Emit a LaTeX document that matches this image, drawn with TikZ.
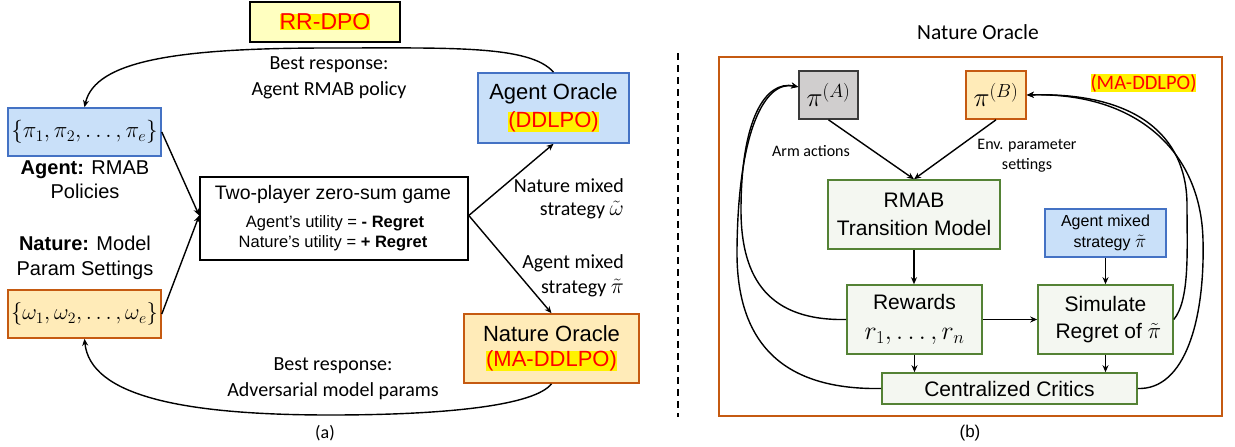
\RequirePackage{fix-cm}
\documentclass[tikz,border=0pt]{standalone}
\usepackage{fontspec}
\newfontfamily\arialf{Liberation Sans}
\newfontfamily\calib{Carlito}
\usetikzlibrary{arrows.meta,calc}
\definecolor{bluefill}{HTML}{C9E0F9}
\definecolor{blueline}{HTML}{4472C4}
\definecolor{orfill}{HTML}{FFEBB8}
\definecolor{orline}{HTML}{C55A11}
\definecolor{grfill}{HTML}{F4F7F1}
\definecolor{grline}{HTML}{548235}
\definecolor{gyfill}{HTML}{D0CECE}
\definecolor{gyline}{HTML}{3A3A3A}
\definecolor{yelfill}{HTML}{FFFFC0}
\newcommand\fs[2]{\fontsize{#1}{#2}\selectfont}
\newcommand\hl[1]{{\setlength{\fboxsep}{0pt}\colorbox{yellow}{\textcolor{red}{#1}}}}
\begin{document}
\begin{tikzpicture}[x=1pt,y=-1pt,
  box/.style={draw, line width=1.6pt, inner sep=0pt, align=center},
  bluebox/.style={box, draw=blueline, fill=bluefill},
  orbox/.style={box, draw=orline, fill=orfill},
  grbox/.style={box, draw=grline, fill=grfill},
  conn/.style={line width=1.4pt, -{Stealth[length=7pt,width=6pt]}},
  lbl/.style={inner sep=0pt, align=center, font=\calib\fs{20}{26}},
  txt/.style={inner sep=0pt, align=center},
]
\useasboundingbox (0,0) rectangle (1235,447);

% ---------------- (a) game between agent and nature ----------------
\node[box, fill=yelfill, minimum width=150, minimum height=40, font=\arialf\fs{23}{27}] (rr) at (325,22) {\hl{RR-DPO}};

\node[bluebox, minimum width=153, minimum height=48, font=\fs{23}{27}] (ag) at (84.5,132) {$\{\pi_1,\pi_2,\ldots,\pi_e\}$};
\node[txt, font=\arialf\fs{20}{24}] (aglab) at (85,180) {\textbf{Agent:} RMAB\\Policies};
\node[txt, font=\arialf\fs{20}{25}] (nslab) at (85,258) {\textbf{Nature:} Model\\Param Settings};
\node[orbox, minimum width=153, minimum height=48, font=\fs{22.5}{27}] (ns) at (84.5,314) {$\{\omega_1,\omega_2,\ldots,\omega_e\}$};

\node[box, minimum width=268, minimum height=83] (game) at (334,218.5) {};
\node[txt, anchor=base, font=\arialf\fs{19.5}{23}] (g1) at (333,199) {Two-player zero-sum game};
\node[txt, anchor=base, font=\arialf\fs{16.5}{20}] (g2) at (335,227) {Agent’s utility = \textbf{- Regret}};
\node[txt, anchor=base, font=\arialf\fs{16.5}{20}] (g3) at (333,247) {Nature’s utility = \textbf{+ Regret}};

\node[bluebox, minimum width=151, minimum height=70, font=\arialf\fs{22}{28}] (aor) at (553.5,108) {Agent Oracle\\\hl{(DDLPO)}};
\node[orbox, minimum width=175, minimum height=69, font=\arialf\fs{22}{25}] (nor) at (551.5,348.5) {Nature Oracle\\\hl{(MA-DDLPO)}};

\node[lbl] (br1) at (329,77.5) {Best response:\\Agent RMAB policy};
\node[lbl] (br2) at (333,378.5) {Best response:\\Adversarial model params};
\node[lbl, align=right, anchor=east, font=\calib\fs{20}{23}] (nmix) at (624,199) {Nature mixed\\strategy {\fs{22}{23}$\tilde{\omega}$}};
\node[lbl, align=right, anchor=east, font=\calib\fs{20}{25}] (amix) at (624,276) {Agent mixed\\strategy {\fs{22}{25}$\tilde{\pi}$}};

\draw[conn] (aor.north) .. controls (530,45) and (450,48) .. (330,48)
  .. controls (180,48) and (95,60) .. (ag.north);
\draw[conn] (nor.south) .. controls (535,405) and (450,415) .. (330,415)
  .. controls (180,415) and (90,395) .. (ns.south);
\draw[conn] (ag.east) -- ($(game.west)+(0,-3)$);
\draw[conn] (ns.east) -- ($(game.west)+(0,-3)$);
\draw[conn] ($(game.east)+(0,-3)$) -- (aor.south);
\draw[conn] ($(game.east)+(0,-3)$) -- (nor.north);

\node[txt, anchor=base, font=\calib\fs{18}{22}] (capa) at (325,438) {(a)};

% separator
\coordinate (sepTop) at (678,53);
\coordinate (sepBot) at (678,417);
\draw[line width=1.8pt, dash pattern=on 7pt off 5pt] (sepTop) -- (sepBot);

% ---------------- (b) nature oracle ----------------
\node[txt, anchor=base, font=\calib\fs{21.5}{26}] (ttl) at (978,39) {Nature Oracle};
\node[draw=orline, line width=2pt, fill=white, minimum width=503, minimum height=359, inner sep=0pt] (outer) at (970.5,236.5) {};
\node[txt, anchor=base, font=\calib\fs{20.5}{24}] (mad) at (1143.5,89) {\hl{(MA-DDLPO)}};

\node[box, draw=gyline, fill=gyfill, minimum width=59, minimum height=48, font=\fs{27}{30}] (pia) at (828.5,95) {$\pi^{(A)}$};
\node[orbox, minimum width=60, minimum height=48, font=\fs{27}{30}] (pib) at (996,95) {$\pi^{(B)}$};

\node[txt, anchor=base, font=\calib\fs{16}{20}] (arm) at (811,156) {Arm actions};
\node[txt, font=\calib\fs{16}{20}] (env) at (1027,155.5) {Env. parameter\\settings};

\node[grbox, minimum width=172, minimum height=69, font=\arialf\fs{21}{28}] (rmab) at (914,214.5) {RMAB\\Transition Model};
\node[bluebox, minimum width=121, minimum height=48, font=\arialf\fs{16}{21}] (ams) at (1105.5,233) {Agent mixed\\\ \ strategy {\fs{19}{21}$\tilde{\pi}$}};
\node[grbox, minimum width=135, minimum height=69, font=\arialf\fs{21}{30}] (rew) at (914.5,319.5) {Rewards\\{\fs{26}{30}$r_1,\ldots,r_n$}};
\node[grbox, minimum width=135, minimum height=69, font=\arialf\fs{21}{27}] (sim) at (1105.5,319.5) {Simulate\\\ Regret of {\fs{23}{27}$\tilde{\pi}$}};
\node[grbox, minimum width=255, minimum height=31, font=\arialf\fs{21}{25}] (crit) at (1009.5,388.5) {Centralized Critics};

\draw[conn] (pia.south) -- (rmab.north);
\draw[conn] (pib.south) -- (rmab.north);
\draw[conn] (rmab.south) -- (rmab.south |- rew.north);
\draw[conn] (ams.south) -- (sim.north);
\draw[conn] (rew.east) -- (sim.west);
\draw[conn] (rew.south) -- (rew.south |- crit.north);
\draw[conn] (sim.south) -- (sim.south |- crit.north);

% feedback to the two policies
\draw[conn] (rew.west) .. controls (770,321) and (741,280) .. (741,210)
  .. controls (741,120) and (765,80) .. (pia.165);
\draw[conn] (crit.west) .. controls (790,390) and (736,350) .. (737,250)
  .. controls (738,130) and (765,80) .. (pia.165);
\draw[conn] (sim.east) .. controls (1190,300) and (1187,250) .. (1187,205)
  .. controls (1187,135) and (1135,92) .. (pib.east);
\draw[conn] (crit.east) .. controls (1185,390) and (1205,320) .. (1203,240)
  .. controls (1201,150) and (1135,92) .. (pib.east);

\node[txt, anchor=base, font=\arialf\fs{17}{20}] (capb) at (970,437) {(b)};
\end{tikzpicture}
\end{document}
